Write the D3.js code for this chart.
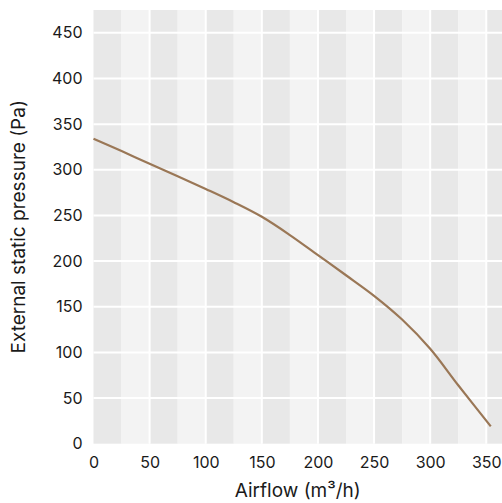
<!DOCTYPE html>
<html>
<head>
<meta charset="utf-8">
<script src="https://cdn.jsdelivr.net/npm/d3@7/dist/d3.min.js"></script>
<style>
  html, body { margin: 0; padding: 0; background: #fff; }
  svg { display: block; }
  text { font-family: Inter, "Liberation Sans", Arial, sans-serif; fill: #1a1a1a; }
</style>
</head>
<body>
<svg id="chart" width="502" height="503"></svg>
<script>
// Data
const airflow  = [0, 25, 50, 75, 100, 125, 150, 175, 200, 225, 250, 275, 300, 325, 354];
const pressure = [334, 320.5, 306.5, 293, 279, 264.5, 248.5, 228.5, 206.5, 184.5, 162, 136, 104, 64, 19];
const xTicks = [0, 50, 100, 150, 200, 250, 300, 350];
const yTicks = [0, 50, 100, 150, 200, 250, 300, 350, 400, 450];
const xTitle = "Airflow (m³/h)";
const yTitle = "External static pressure (Pa)";

const W = 502, H = 503;
const m = { left: 93.5, right: 0, top: 10, bottom: 59.3 };
const FONT = 'Inter, "Liberation Sans", Arial, sans-serif';
const svg = d3.select("#chart");

const x = d3.scaleLinear().domain([0, 364]).range([m.left, W - m.right]);
const y = d3.scaleLinear().domain([0, 475]).range([H - m.bottom, m.top]);

const g = svg.append("g");

// alternating vertical bands every 25 units
const bandStep = 25;
const bands = d3.range(0, x.domain()[1], bandStep);
g.selectAll("rect.band").data(bands).join("rect")
  .attr("class", "band")
  .attr("x", d => x(d))
  .attr("y", y(y.domain()[1]))
  .attr("width", d => x(Math.min(d + bandStep, x.domain()[1])) - x(d))
  .attr("height", y(0) - y(y.domain()[1]))
  .attr("fill", (d, i) => i % 2 === 0 ? "#e8e8e8" : "#f3f3f3");

// gridlines
g.selectAll("line.vgrid").data(xTicks.filter(d => d > 0)).join("line")
  .attr("x1", d => x(d)).attr("x2", d => x(d))
  .attr("y1", y(y.domain()[1])).attr("y2", y(0))
  .attr("stroke", "#fff").attr("stroke-width", 2);
g.selectAll("line.hgrid").data(yTicks.filter(d => d > 0)).join("line")
  .attr("x1", x(0)).attr("x2", x(x.domain()[1]))
  .attr("y1", d => y(d)).attr("y2", d => y(d))
  .attr("stroke", "#fff").attr("stroke-width", 2);

// axes
const xAxis = d3.axisBottom(x).tickValues(xTicks).tickSize(0).tickPadding(13);
const gx = svg.append("g").attr("transform", `translate(0,${y(0)})`).call(xAxis);
gx.select(".domain").remove();
gx.selectAll("text").style("font-size", "16px").attr("fill", "#1a1a1a")
  .style("font-family", FONT);

const yAxis = d3.axisLeft(y).tickValues(yTicks).tickSize(0).tickPadding(11);
const gy = svg.append("g").attr("transform", `translate(${x(0)},0)`).call(yAxis);
gy.select(".domain").remove();
gy.selectAll("text").style("font-size", "16px").attr("fill", "#1a1a1a")
  .style("font-family", FONT);

// line
const line = d3.line()
  .x((d, i) => x(airflow[i]))
  .y(d => y(d))
  .curve(d3.curveCatmullRom.alpha(0.5));
svg.append("path").datum(pressure)
  .attr("d", line)
  .attr("fill", "none")
  .attr("stroke", "#9a7756")
  .attr("stroke-width", 2.2);

// titles
svg.append("text")
  .attr("x", (x.range()[0] + x.range()[1]) / 2)
  .attr("y", 497)
  .attr("text-anchor", "middle")
  .style("font-size", "19px")
  .text(xTitle);

svg.append("text")
  .attr("transform", `translate(25,${(y.range()[0] + y.range()[1]) / 2}) rotate(-90)`)
  .attr("text-anchor", "middle")
  .style("font-size", "19px")
  .text(yTitle);
</script>
</body>
</html>
